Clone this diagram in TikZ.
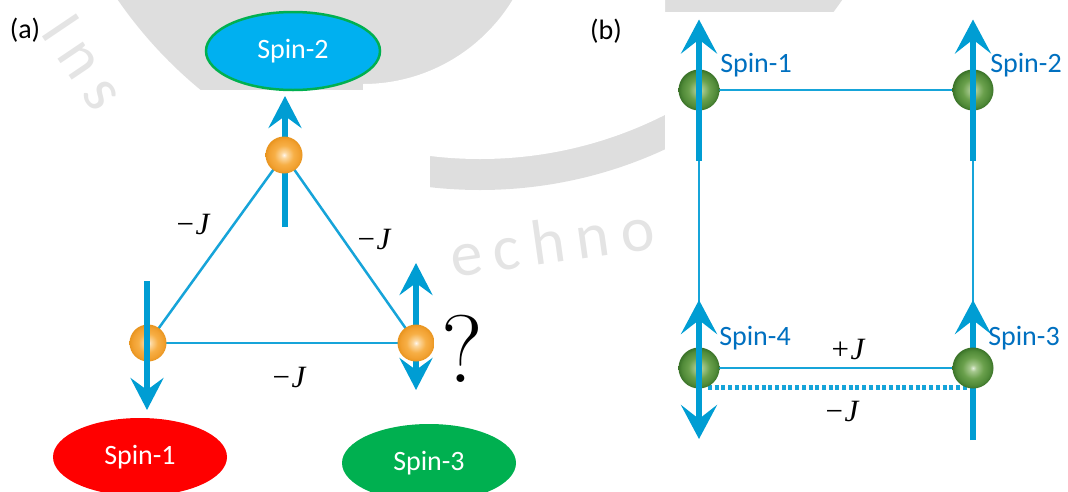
\documentclass[tikz,border=0pt]{standalone}
\usepackage{fontspec}
\usetikzlibrary{arrows.meta,shapes.geometric,calc}
\newfontfamily\labfont{Carlito}
\newfontfamily\wmfont{Carlito}[LetterSpace=18]
\newfontfamily\jfont{Liberation Serif}

\definecolor{arrowblue}{RGB}{0,157,211}
\definecolor{lineblue}{RGB}{22,164,217}
\definecolor{labelblue}{RGB}{0,112,192}
\definecolor{skyfill}{RGB}{0,176,240}
\definecolor{leafgreen}{RGB}{0,176,80}
\definecolor{spinred}{RGB}{255,0,0}
\definecolor{wmgray}{RGB}{222,222,222}
\definecolor{wmtext}{RGB}{228,228,228}
% orange ball tones
\definecolor{orA}{RGB}{255,246,236}
\definecolor{orB}{RGB}{252,216,160}
\definecolor{orC}{RGB}{247,175,70}
\definecolor{orD}{RGB}{241,160,48}
\definecolor{orE}{RGB}{232,148,30}
% green ball tones
\definecolor{grA}{RGB}{226,238,218}
\definecolor{grB}{RGB}{166,200,142}
\definecolor{grC}{RGB}{106,160,76}
\definecolor{grD}{RGB}{80,138,56}
\definecolor{grE}{RGB}{58,114,40}

\pgfdeclareradialshading{orangeball}{\pgfpoint{0bp}{0bp}}{color(0bp)=(orA); color(4bp)=(orB); color(13bp)=(orC); color(21bp)=(orD); color(25bp)=(orE); color(50bp)=(orE)}
\pgfdeclareradialshading{greenball}{\pgfpoint{0bp}{0bp}}{color(0bp)=(grA); color(4bp)=(grB); color(13bp)=(grC); color(21bp)=(grD); color(25bp)=(grE); color(50bp)=(grE)}

\pgfdeclarelayer{wm}
\pgfdeclarelayer{bg}
\pgfdeclarelayer{fg}
\pgfsetlayers{wm,bg,main,fg}

\tikzset{
  ballA/.style={circle, minimum size=37pt, inner sep=0pt, shading=orangeball},
  ballB/.style={circle, minimum size=41pt, inner sep=0pt, shading=greenball},
  bond/.style={draw=lineblue, line width=2.5pt},
  dotbond/.style={draw=lineblue, line width=4.2pt, dash pattern=on 4pt off 2.7pt},
  spinA/.style={draw=arrowblue, line width=6.3pt, -{Stealth[length=32pt,width=33pt,inset=12pt]}},
  spinB/.style={draw=arrowblue, line width=6.5pt, -{Stealth[length=34pt,width=36pt,inset=14pt]}},
  spinBB/.style={draw=arrowblue, line width=6.5pt,
    {Stealth[length=34pt,width=36pt,inset=14pt]}-{Stealth[length=34pt,width=36pt,inset=14pt]}},
  oval/.style={ellipse, minimum width=174pt, minimum height=78pt, inner sep=0pt,
    text=white, font=\labfont\fontsize{28}{30}\selectfont},
  spinlab/.style={inner sep=0pt, text=labelblue, font=\labfont\fontsize{28}{30}\selectfont},
  panel/.style={inner sep=0pt, font=\labfont\fontsize{28}{30}\selectfont},
  coup/.style={inner sep=0pt, font=\jfont\itshape\fontsize{31}{33}\selectfont},
  wmark/.style={inner sep=0pt, text=wmtext, font=\wmfont\fontsize{64}{66}\selectfont},
}

\begin{document}
\begin{tikzpicture}[x=1pt, y=-1pt]
\useasboundingbox (0,0) rectangle (1068,491);

% ---------- faint logo in the background ----------
\begin{pgfonlayer}{wm}
  % outer ring with its filled interior
  \fill[wmgray] (480,-250) circle[radius=440];
  % open crescent between the ring and the inner disc (right side only)
  \begin{scope}
    \clip (363,-300) rectangle (665,300);
    \fill[white, even odd rule] (480,-250) circle[radius=409] (363,-91) circle[radius=175];
  \end{scope}
  \node[wmark, rotate=-56] (wmA) at (84,62) {Ins};
  \node[wmark, rotate=8] (wmB) at (552,241) {echno};
  % plain backgrounds of the two panels
  \fill[white] (127,90) rectangle (430,491);
  \fill[white] (665,12) rectangle (1068,491);
\end{pgfonlayer}

% ---------- (a) frustrated triangle ----------
\node[panel] (la) at (25,30) {(a)};

\node[oval, fill=skyfill, draw=leafgreen, line width=2.5pt] (o2) at (293,51) {Spin-2};
\node[oval, fill=spinred] (o1) at (140,457) {Spin-1};
\node[oval, fill=leafgreen] (o3) at (429,463) {Spin-3};

\node[ballA] (a2) at (284,155) {};
\node[ballA] (a1) at (148,343) {};
\node[ballA] (a3) at (416,343) {};

\coordinate (a2lo) at (285,227);
\coordinate (a2hi) at (285,96);
\coordinate (a1hi) at (147,281);
\coordinate (a1lo) at (147,410);
\coordinate (a3hi) at (416,263);
\coordinate (a3lo) at (416,390);

\begin{pgfonlayer}{bg}
  \draw[bond] (a2.center) -- (a1.center);
  \draw[bond] (a2.center) -- (a3.center);
  \draw[bond] (a1.center) -- (a3.center);
  \draw[spinA] (a2lo) -- (a2hi);
  \draw[spinA] (a3.center) -- (a3hi);
  \draw[spinA] (a3.center) -- (a3lo);
\end{pgfonlayer}
\begin{pgfonlayer}{fg}
  \draw[spinA] (a1hi) -- (a1lo);
\end{pgfonlayer}

\node[coup] (j12) at (192,224) {−J};
\node[coup] (j23) at (373,239) {−J};
\node[coup] (j13) at (288,377) {−J};
\node[inner sep=0pt, font=\fontsize{96}{100}\selectfont] (qm) at (462,349) {?};

% ---------- (b) square plaquette ----------
\node[panel] (lb) at (606,31) {(b)};

\node[ballB] (b1) at (699,90) {};
\node[ballB] (b2) at (973,90) {};
\node[ballB] (b4) at (699,368) {};
\node[ballB] (b3) at (973,368) {};

\coordinate (b1lo) at (699,161);
\coordinate (b1hi) at (699,19.5);
\coordinate (b2lo) at (973,161);
\coordinate (b2hi) at (973,19.5);
\coordinate (b4hi) at (699,300);
\coordinate (b4lo) at (699,439);
\coordinate (b3hi) at (973,300);
\coordinate (b3lo) at (973,440);

\begin{pgfonlayer}{bg}
  \draw[bond, line width=2.8pt] (b1.center) -- (b2.center);
  \draw[bond, line width=2.8pt] (b2.center) -- (b3.center);
  \draw[bond, line width=2.8pt] (b4.center) -- (b3.center);
  \draw[bond, line width=2.8pt] (b1.center) -- (b4.center);
  \draw[dotbond] ($(b4.center)+(9,19.5)$) -- ($(b3.center)+(-5,19.5)$);
  \draw[spinB] (b3lo) -- (b3hi);
\end{pgfonlayer}
\begin{pgfonlayer}{fg}
  \draw[spinB] (b1lo) -- (b1hi);
  \draw[spinB] (b2lo) -- (b2hi);
  \draw[spinBB] (b4hi) -- (b4lo);
\end{pgfonlayer}

\node[spinlab] (t1) at (756,65) {Spin-1};
\node[spinlab] (t2) at (1026,65) {Spin-2};
\node[spinlab] (t4) at (755,338) {Spin-4};
\node[spinlab] (t3) at (1024,338) {Spin-3};

\node[coup] (jp) at (847,349) {+J};
\node[coup] (jm) at (841,411) {−J};
\end{tikzpicture}
\end{document}
